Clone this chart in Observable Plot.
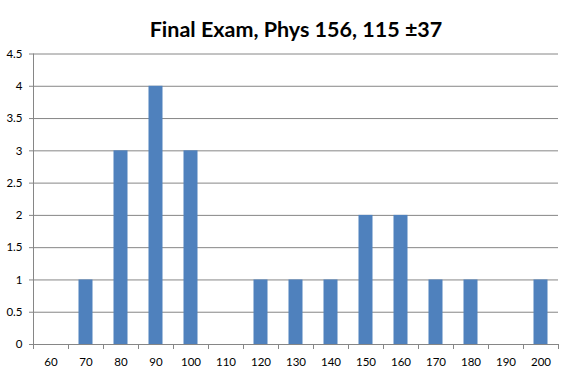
<!DOCTYPE html>
<html>
<head>
<meta charset="utf-8">
<script src="https://cdn.jsdelivr.net/npm/d3@7"></script>
<script src="https://cdn.jsdelivr.net/npm/@observablehq/plot@0.6"></script>
<style>
  html, body { margin: 0; padding: 0; background: #fff; }
  #chart svg { display: block; }
</style>
</head>
<body>
<div id="chart"></div>
<script>
const title = "Final Exam, Phys 156, 115 ±37";
const scores = [60, 70, 80, 90, 100, 110, 120, 130, 140, 150, 160, 170, 180, 190, 200];
const counts = [0, 1, 3, 4, 3, 0, 1, 1, 1, 2, 2, 1, 1, 0, 1];
const yTicks = [0, 0.5, 1, 1.5, 2, 2.5, 3, 3.5, 4, 4.5];

const data = scores.map((s, i) => ({score: s, count: counts[i]}));
const step = 10;
const half = step / 2;
const barHalf = step * 0.2;
const boundaries = [...scores.map(s => s - half), scores[scores.length - 1] + half];

const gridColor = "#868686";
const font = "Lato, 'Liberation Sans', sans-serif";

const chart = Plot.plot({
  width: 571,
  height: 374,
  marginLeft: 33,
  marginRight: 13,
  marginTop: 53.5,
  marginBottom: 30,
  style: {fontFamily: font, fontSize: "11.5px", color: "#000", background: "#fff"},
  x: {domain: [boundaries[0], boundaries[boundaries.length - 1]]},
  y: {domain: [0, 4.5]},
  marks: [
    Plot.gridY(yTicks, {stroke: gridColor, strokeOpacity: 1}),
    Plot.rectY(data.filter(d => d.count > 0), {
      x1: d => d.score - barHalf,
      x2: d => d.score + barHalf,
      y: "count",
      fill: "#4F81BD"
    }),
    Plot.ruleX([boundaries[0]], {stroke: gridColor}),
    Plot.ruleY([0], {stroke: gridColor}),
    Plot.axisY({ticks: yTicks, tickSize: 4, tickPadding: 7, stroke: gridColor, tickFormat: d => String(d), label: null, fill: "#000"}),
    Plot.axisX({ticks: boundaries, tickSize: 5, tickFormat: () => "", stroke: gridColor, label: null}),
    Plot.axisX({ticks: scores, tickSize: 0, tickPadding: 13, tickFormat: d => String(d), label: null, fill: "#000"}),
    Plot.text([title], {
      text: d => d,
      frameAnchor: "top",
      dy: -32,
      fontSize: 21.5,
      fontWeight: "bold",
      fill: "#000"
    })
  ]
});
document.getElementById("chart").appendChild(chart);
</script>
</body>
</html>
